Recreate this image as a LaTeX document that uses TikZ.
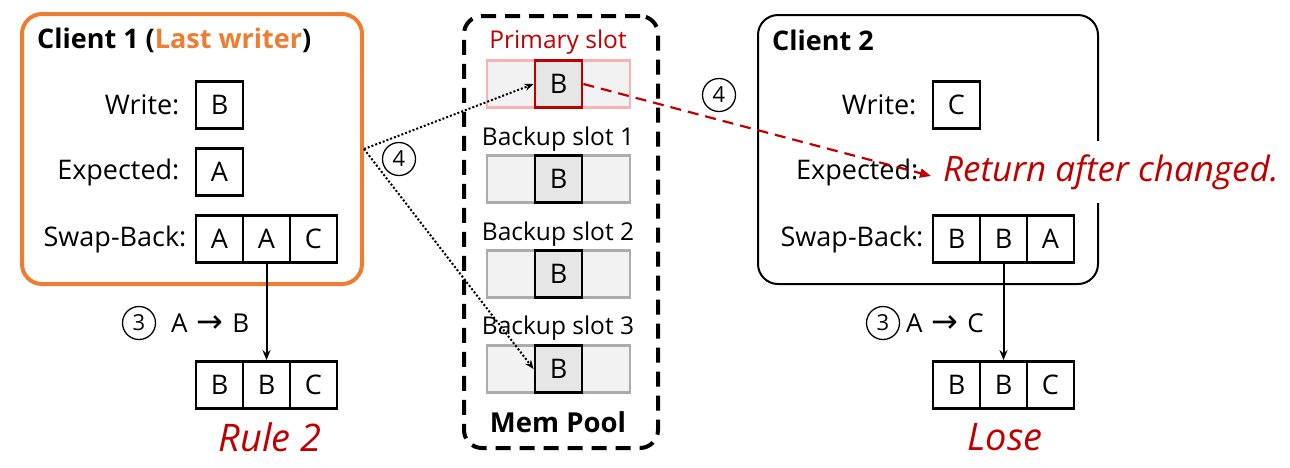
\documentclass[tikz,border=0pt]{standalone}
\usepackage{fontspec}
\setmainfont{Open Sans}
\newfontfamily\djv{DejaVu Sans}
\usetikzlibrary{arrows.meta}
\definecolor{orng}{HTML}{ED7D31}
\definecolor{dred}{HTML}{C00000}
\definecolor{slotfill}{HTML}{F2F2F2}
\definecolor{cellfill}{HTML}{E6E6E6}
\definecolor{pinkb}{HTML}{F5B3B3}
\definecolor{grayb}{HTML}{AFABAB}
\tikzset{
  cell/.style={draw, line width=2.8pt, minimum width=47pt, minimum height=47pt, inner sep=0pt, font=\fontsize{27}{27}\selectfont},
  lbl/.style={anchor=east, inner sep=0pt, font=\fontsize{27}{27}\selectfont},
  slotbox/.style={draw=grayb, fill=slotfill, line width=2.8pt, minimum width=143pt, minimum height=47pt, inner sep=0pt},
  slotcell/.style={draw, fill=cellfill, line width=2.8pt, minimum width=47pt, minimum height=47pt, inner sep=0pt, font=\fontsize{27}{27}\selectfont},
  slotlbl/.style={inner sep=0pt, font=\fontsize{24.5}{24.5}\selectfont},
  num/.style={draw, circle, line width=1.3pt, minimum size=33pt, inner sep=0pt, font=\fontsize{22}{22}\selectfont},
  steptxt/.style={anchor=west, inner sep=0pt, font=\fontsize{26}{26}\selectfont},
  result/.style={inner sep=0pt, text=dred, font=\fontsize{38}{38}\selectfont\itshape},
  ttl/.style={anchor=west, inner sep=0pt, font=\fontsize{27}{27}\selectfont\bfseries},
  dots/.style={line width=2pt, dash pattern=on 2pt off 2pt, -{Stealth[length=9pt,width=7pt]}},
}
\newcommand{\bigarrow}{\hspace{9pt}{\djv\fontsize{32}{26}\selectfont →}\hspace{9pt}}
\begin{document}
\begin{tikzpicture}[x=1pt,y=-1pt]
\useasboundingbox (0,0) rectangle (1290,467);

% ---------- Client 1 ----------
\node[draw=orng, line width=4pt, rounded corners=20pt, minimum width=340pt, minimum height=270pt, anchor=north west, inner sep=0pt] (c1) at (20,12) {};
\node[ttl] (t1) at (37,40) {Client 1 (\textcolor{orng}{Last writer})};
\node[cell] (w1) at (219.5,105) {B};
\node[cell] (e1) at (219.5,172) {A};
\node[cell] (s1a) at (219.5,239) {A};
\node[cell] (s1b) at (266.5,239) {A};
\node[cell] (s1c) at (313.5,239) {C};
\node[lbl] (lw1) at ([xshift=-15pt]w1.west) {Write:};
\node[lbl] (le1) at ([xshift=-15pt]e1.west) {Expected:};
\node[lbl] (ls1) at ([xshift=-8pt]s1a.west) {Swap-Back:};
\node[cell] (r1a) at (219.5,385) {B};
\node[cell] (r1b) at (266.5,385) {B};
\node[cell] (r1c) at (313.5,385) {C};
\draw[line width=2pt, -{Stealth[length=10pt,width=8pt]}] (s1b.south) -- (r1b.north);
\node[num] (n3a) at (139,323) {3};
\node[steptxt] (st1) at (171,323) {A\bigarrow B};
\node[result] (rule) at (270,437) {Rule 2};

% ---------- Mem Pool ----------
\node[draw, line width=4pt, dash pattern=on 15pt off 9pt, rounded corners=18pt, minimum width=194pt, minimum height=432pt, anchor=north west, inner sep=0pt] (mp) at (462,14) {};
\node[slotlbl, text=dred] (lp) at (558,42) {Primary slot};
\node[slotbox, draw=pinkb] (sp) at (558.5,84) {};
\node[slotcell, draw=dred] (pB) at (558.5,84) {B};
\node[slotlbl] (lb1) at (558,139) {Backup slot 1};
\node[slotbox] (sb1) at (558.5,179) {};
\node[slotcell] (b1B) at (558.5,179) {B};
\node[slotlbl] (lb2) at (558,234) {Backup slot 2};
\node[slotbox] (sb2) at (558.5,274) {};
\node[slotcell] (b2B) at (558.5,274) {B};
\node[slotlbl] (lb3) at (558,328) {Backup slot 3};
\node[slotbox] (sb3) at (558.5,369) {};
\node[slotcell] (b3B) at (558.5,369) {B};
\node[inner sep=0pt, font=\fontsize{27.5}{27.5}\selectfont\bfseries] (mpl) at (558,422) {Mem Pool};

% ---------- Client 2 ----------
\node[draw, line width=2pt, rounded corners=20pt, minimum width=340pt, minimum height=269pt, anchor=north west, inner sep=0pt] (c2) at (757,14) {};
\node[ttl] (t2) at (772,40) {Client 2};
\node[cell] (w2) at (956.5,105) {C};
\node[cell] (s2a) at (956.5,239) {B};
\node[cell] (s2b) at (1003.5,239) {B};
\node[cell] (s2c) at (1050.5,239) {A};
\node[lbl] (lw2) at ([xshift=-15pt]w2.west) {Write:};
\coordinate (e2) at (956.5,172);
\node[lbl] (le2) at ([xshift=-38pt]e2) {Expected:};
\node[lbl] (ls2) at ([xshift=-8pt]s2a.west) {Swap-Back:};
\node[cell] (r2a) at (956.5,385) {B};
\node[cell] (r2b) at (1003.5,385) {B};
\node[cell] (r2c) at (1050.5,385) {C};
\draw[line width=2pt, -{Stealth[length=10pt,width=8pt]}] (s2b.south) -- (r2b.north);
\node[num] (n3b) at (883,323) {3};
\node[steptxt] (st2) at (906,323) {A\bigarrow C};
\node[result] (lose) at (1005,437) {Lose};

\node[result, fill=white, anchor=west, inner xsep=3pt, inner ysep=13pt, font=\fontsize{35}{35}\selectfont\itshape] (ret) at (940,172) {Return after changed.};

% ---------- connectors ----------
\draw[dots] (c1.east) -- (pB.west);
\draw[dots] (c1.east) -- (b3B.west);
\node[num] (n4a) at (399,159) {4};
\draw[dred, line width=2.2pt, dash pattern=on 11pt off 7pt, -{Triangle[length=11pt,width=9pt]}] (pB.east) -- ([xshift=-9pt,yshift=-4pt]ret.west);
\node[num] (n4b) at (719,95) {4};
\end{tikzpicture}
\end{document}
